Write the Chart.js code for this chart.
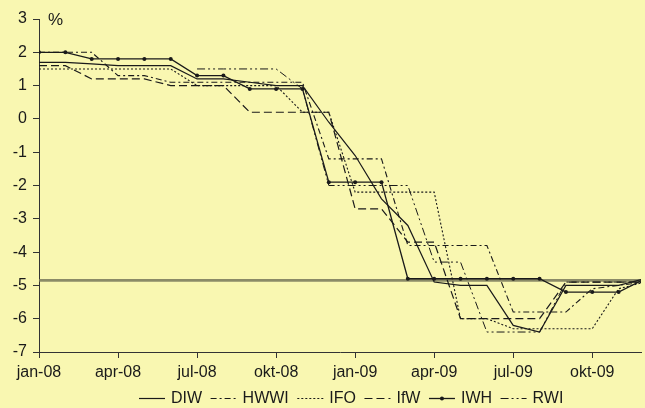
<!DOCTYPE html>
<html><head><meta charset="utf-8">
<script src="https://cdn.jsdelivr.net/npm/chart.js@4.4.1/dist/chart.umd.min.js"></script>
<style>
html,body{margin:0;padding:0;background:#f9f7b1;overflow:hidden;}
canvas{display:block;background:#f9f7b1;}
</style></head><body>
<canvas id="c" width="645" height="408"></canvas>
<script>
const months = ['jan-08','feb-08','mar-08','apr-08','maj-08','jun-08','jul-08','aug-08','sep-08','okt-08','nov-08','dec-08',
                'jan-09','feb-09','mar-09','apr-09','maj-09','jun-09','jul-09','aug-09','sep-09','okt-09','nov-09','dec-09'];
const tickLabels = ['jan-08','apr-08','jul-08','okt-08','jan-09','apr-09','jul-09','okt-09'];
const seriesNames = ['DIW','HWWI','IFO','IfW','IWH','RWI'];
const diw  = [1.7,1.7,1.65,1.6,1.6,1.6,1.2,1.2,1.1,1.0,1.0,-0.1,-1.1,-2.4,-3.2,-4.9,-5.0,-5.0,-6.2,-6.4,-5.0,-5.0,-5.0,-4.8];
const hwwi = [2.0,2.0,2.0,1.3,1.3,1.1,1.1,1.1,1.1,1.1,1.1,-1.2,-1.2,-1.2,-3.8,-3.8,-3.8,-3.8,-5.8,-5.8,-5.8,-5.1,-5.0,-4.9];
const ifo  = [1.5,1.5,1.5,1.5,1.5,1.5,1.0,1.0,1.0,1.0,0.2,0.2,-2.2,-2.2,-2.2,-2.2,-6.0,-6.0,-6.3,-6.3,-6.3,-6.3,-5.1,-4.9];
const ifw  = [1.6,1.6,1.2,1.2,1.2,1.0,1.0,1.0,0.2,0.2,0.2,0.2,-2.7,-2.7,-3.7,-3.7,-6.0,-6.0,-6.0,-6.0,-4.9,-4.9,-4.9,-4.9];
const iwh  = [2.0,2.0,1.8,1.8,1.8,1.8,1.3,1.3,0.9,0.9,0.9,-1.9,-1.9,-1.9,-4.8,-4.8,-4.8,-4.8,-4.8,-4.8,-5.2,-5.2,-5.2,-4.8];
const rwi  = [null,null,null,null,null,null,1.5,1.5,1.5,1.5,0.9,-2.0,-2.0,-2.0,-2.0,-4.3,-4.3,-6.4,-6.4,-6.4,-4.9,-4.9,-4.9,-4.9];
const actual = [-4.85,-4.85,-4.85,-4.85,-4.85,-4.85,-4.85,-4.85,-4.85,-4.85,-4.85,-4.85,
                -4.85,-4.85,-4.85,-4.85,-4.85,-4.85,-4.85,-4.85,-4.85,-4.85,-4.85,-4.85];
const yTicks = [3,2,1,0,-1,-2,-3,-4,-5,-6,-7];

const FONT = 'Liberation Sans, Arial, sans-serif';
const INK = '#1a1a1a';
const pts = arr => arr.map((v,i)=>({x:i,y:v}));
const tickIdx = tickLabels.map(l=>months.indexOf(l));

function ds(label, data, dash, width, extra){
  return Object.assign({label, data:pts(data), borderColor:INK, backgroundColor:INK,
    borderWidth:width, borderDash:dash, pointRadius:0, tension:0, spanGaps:false}, extra||{});
}

const datasets = [
  ds(seriesNames[0], diw, [], 1.2),
  ds(seriesNames[1], hwwi, [6,3,2,3], 1.1),
  ds(seriesNames[2], ifo, [2,2], 1.1),
  ds(seriesNames[3], ifw, [8,4], 1.2),
  ds(seriesNames[4], iwh, [], 1.3, {pointRadius:2, pointBackgroundColor:INK, pointBorderWidth:0, pointStyle:'circle'}),
  ds(seriesNames[5], rwi, [8,3,2,3,2,3], 1.0),
  {label:'', data:pts(actual), borderColor:'rgba(120,120,90,0.85)', borderWidth:2.6, pointRadius:0}
];

// Legend drawn from the datasets' own labels and line styles
const legendPlugin = {
  id:'lineLegend',
  afterDraw(chart){
    const ctx = chart.ctx;
    ctx.save();
    ctx.font = '16px ' + FONT;
    ctx.textBaseline = 'middle';
    ctx.fillStyle = INK;
    const y = 398.5;
    let x = 139;
    chart.data.datasets.forEach((d, i) => {
      if (!d.label) return;
      ctx.strokeStyle = d.borderColor;
      ctx.lineWidth = d.borderWidth;
      ctx.setLineDash(d.borderDash || []);
      ctx.beginPath(); ctx.moveTo(x, y); ctx.lineTo(x + 26, y); ctx.stroke();
      ctx.setLineDash([]);
      if (d.pointRadius > 0){
        ctx.beginPath(); ctx.arc(x + 13, y, 2, 0, Math.PI*2); ctx.fill();
      }
      ctx.fillText(d.label, x + 32, y);
      x += 32 + ctx.measureText(d.label).width + 8.5;
    });
    ctx.font = '17px ' + FONT;
    ctx.textBaseline = 'alphabetic';
    ctx.fillText('%', 48, 25);
    ctx.restore();
  }
};

new Chart(document.getElementById('c'), {
  type:'line',
  data:{datasets},
  plugins:[legendPlugin],
  options:{
    responsive:false, animation:false, devicePixelRatio:1,
    layout:{padding:{top:19,left:0,right:0,bottom:0}},
    plugins:{ legend:{display:false}, tooltip:{enabled:false} },
    scales:{
      x:{type:'linear', min:0, max:22.85,
        afterBuildTicks:s=>{s.ticks = tickIdx.map(v=>({value:v}));},
        afterFit:s=>{s.height = 56;},
        ticks:{callback:v=>months[v], font:{family:FONT,size:16}, color:INK, padding:5, maxRotation:0, autoSkip:false},
        grid:{drawOnChartArea:false, tickLength:6, tickColor:'#333'},
        border:{color:'#333', width:1}},
      y:{min:-7, max:3,
        afterBuildTicks:s=>{s.ticks = yTicks.map(v=>({value:v}));},
        afterFit:s=>{s.width = 39;},
        ticks:{font:{family:FONT,size:16}, color:INK, padding:6},
        grid:{drawOnChartArea:false, tickLength:6, tickColor:'#333'},
        border:{color:'#333', width:1}}
    }
  }
});
</script>
</body></html>
